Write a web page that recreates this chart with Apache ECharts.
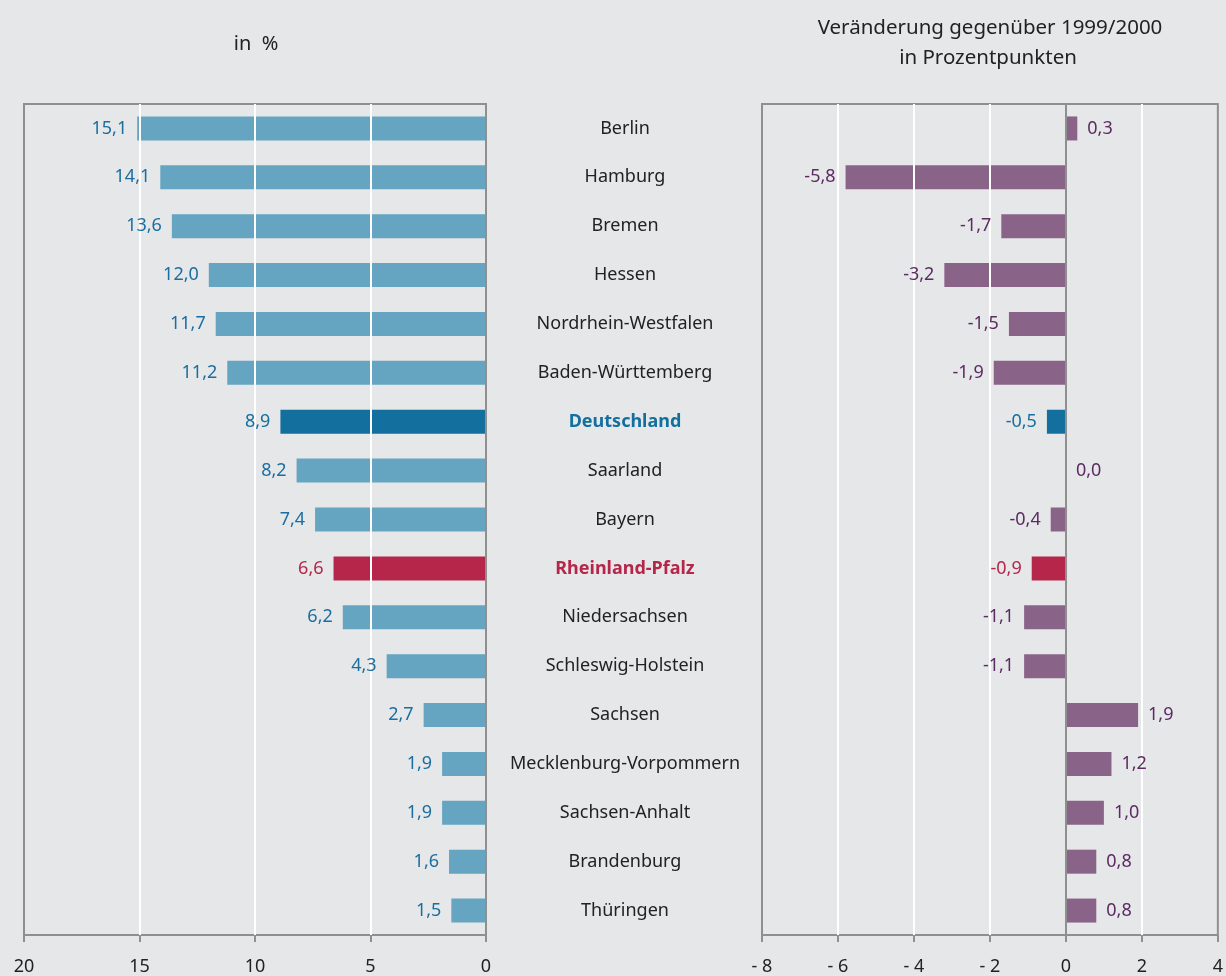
<!DOCTYPE html>
<html lang="de">
<head>
    <meta charset="UTF-8">
    <title>Anteil und Veränderung</title>
    <script src="https://cdn.jsdelivr.net/npm/echarts@6/dist/echarts.min.js"></script>
    <style>
        html, body { margin: 0; padding: 0; background: #e6e7e9; }
        #chart { width: 1226px; height: 976px; }
    </style>
</head>
<body>
<div id="chart"></div>
<script type="text/javascript">
    // Daten
    var laender = ['Berlin', 'Hamburg', 'Bremen', 'Hessen', 'Nordrhein-Westfalen', 'Baden-Württemberg',
        'Deutschland', 'Saarland', 'Bayern', 'Rheinland-Pfalz', 'Niedersachsen', 'Schleswig-Holstein',
        'Sachsen', 'Mecklenburg-Vorpommern', 'Sachsen-Anhalt', 'Brandenburg', 'Thüringen'];
    var anteil = [15.1, 14.1, 13.6, 12.0, 11.7, 11.2, 8.9, 8.2, 7.4, 6.6, 6.2, 4.3, 2.7, 1.9, 1.9, 1.6, 1.5];
    var veraenderung = [0.3, -5.8, -1.7, -3.2, -1.5, -1.9, -0.5, 0.0, -0.4, -0.9, -1.1, -1.1, 1.9, 1.2, 1.0, 0.8, 0.8];
    var ticksLinks = [20, 15, 10, 5, 0];
    var ticksRechts = [-8, -6, -4, -2, 0, 2, 4];

    var FONT = 'Noto Sans';
    var hell = '#65a5c2', dunkel = '#136f9e', rot = '#b5264a', lila = '#8a6389';
    var txtBlau = '#1b6e9f', txtLila = '#5c2b62';

    function komma(v) { return v.toFixed(1).replace('.', ','); }
    function farbe(name, normal) {
        if (name === 'Deutschland') return dunkel;
        if (name === 'Rheinland-Pfalz') return rot;
        return normal;
    }

    // Balken (ohne Beschriftung)
    var linksBalken = anteil.map(function (v, i) {
        return { value: v, itemStyle: { color: farbe(laender[i], hell) } };
    });
    var rechtsBalken = veraenderung.map(function (v, i) {
        return { value: v, itemStyle: { color: farbe(laender[i], lila) } };
    });
    // Beschriftung als eigene, unsichtbare Serie ueber den Gitterlinien
    var linksText = anteil.map(function (v, i) {
        return { value: v, label: { color: farbe(laender[i], txtBlau) } };
    });
    var rechtsText = veraenderung.map(function (v, i) {
        return { value: v, label: { color: farbe(laender[i], txtLila), position: v < 0 ? 'left' : 'right' } };
    });

    var achseLinie = { lineStyle: { color: '#8f8f8f', width: 2 } };
    var achseTick = { show: true, length: 7, inside: false, lineStyle: { color: '#8f8f8f', width: 2 } };
    var gitter = { show: true, showMinLine: false, showMaxLine: false, lineStyle: { color: '#ffffff', width: 2 } };

    var myChart = echarts.init(document.getElementById('chart'));
    var option = {
        backgroundColor: '#e6e7e9',
        animation: false,
        textStyle: { fontFamily: FONT },
        graphic: [
            { type: 'text', style: { x: 256, y: 44, text: 'in  %', font: '20px "Noto Sans"', fill: '#222', textAlign: 'center', textVerticalAlign: 'middle' } },
            { type: 'text', style: { x: 990, y: 28, text: 'Veränderung gegenüber 1999/2000', font: '20.5px "Noto Sans"', fill: '#222', textAlign: 'center', textVerticalAlign: 'middle' } },
            { type: 'text', style: { x: 988, y: 58, text: 'in Prozentpunkten', font: '20.5px "Noto Sans"', fill: '#222', textAlign: 'center', textVerticalAlign: 'middle' } }
        ],
        grid: [
            { left: 24, right: 740, top: 104, bottom: 39, show: true, borderColor: '#8f8f8f', borderWidth: 2, containLabel: false },
            { left: 762, right: 7, top: 104, bottom: 39, show: true, borderColor: '#8f8f8f', borderWidth: 2, containLabel: false }
        ],
        xAxis: [
            {
                gridIndex: 0, type: 'value', min: 0, max: 20, interval: 5, inverse: true, z: 5,
                axisLine: achseLinie, axisTick: achseTick, splitLine: gitter,
                axisLabel: { color: '#222', fontSize: 18, margin: 23, fontFamily: FONT }
            },
            {
                gridIndex: 1, type: 'value', min: -8, max: 4, interval: 2, z: 5,
                axisLine: achseLinie, axisTick: achseTick, splitLine: gitter,
                axisLabel: {
                    color: '#222', fontSize: 18, margin: 23, fontFamily: FONT,
                    formatter: function (v) { return v < 0 ? '- ' + Math.abs(v) : String(v); }
                }
            }
        ],
        yAxis: [
            {
                gridIndex: 0, type: 'category', data: laender, inverse: true, position: 'right', z: 6,
                axisLine: { show: true, onZero: false, lineStyle: { color: '#8f8f8f', width: 2 } },
                axisTick: { show: false },
                axisLabel: {
                    margin: 139, align: 'center', fontSize: 18, color: '#222', fontFamily: FONT,
                    formatter: function (n) {
                        if (n === 'Deutschland') return '{de|' + n + '}';
                        if (n === 'Rheinland-Pfalz') return '{rp|' + n + '}';
                        return n;
                    },
                    rich: {
                        de: { color: dunkel, fontWeight: 'bold', fontSize: 18, fontFamily: FONT },
                        rp: { color: rot, fontWeight: 'bold', fontSize: 18, fontFamily: FONT }
                    }
                }
            },
            {
                gridIndex: 1, type: 'category', data: laender, inverse: true, z: 6,
                axisLine: { show: true, onZero: true, lineStyle: { color: '#8f8f8f', width: 2 } },
                axisTick: { show: false },
                axisLabel: { show: false }
            }
        ],
        series: [
            {
                type: 'bar', xAxisIndex: 0, yAxisIndex: 0, data: linksBalken,
                barWidth: 24, z: 2, label: { show: false }
            },
            {
                type: 'bar', xAxisIndex: 0, yAxisIndex: 0, data: linksText,
                barWidth: 24, barGap: '-100%', z: 10, silent: true,
                itemStyle: { color: 'rgba(0,0,0,0)' },
                label: { show: true, position: 'left', distance: 10, fontSize: 18, fontFamily: FONT, formatter: function (p) { return komma(p.value); } }
            },
            {
                type: 'bar', xAxisIndex: 1, yAxisIndex: 1, data: rechtsBalken,
                barWidth: 24, z: 2, label: { show: false }
            },
            {
                type: 'bar', xAxisIndex: 1, yAxisIndex: 1, data: rechtsText,
                barWidth: 24, barGap: '-100%', z: 10, silent: true,
                itemStyle: { color: 'rgba(0,0,0,0)' },
                label: { show: true, distance: 10, fontSize: 18, fontFamily: FONT, formatter: function (p) { return komma(p.value); } }
            }
        ]
    };
    myChart.setOption(option);
</script>
</body>
</html>
